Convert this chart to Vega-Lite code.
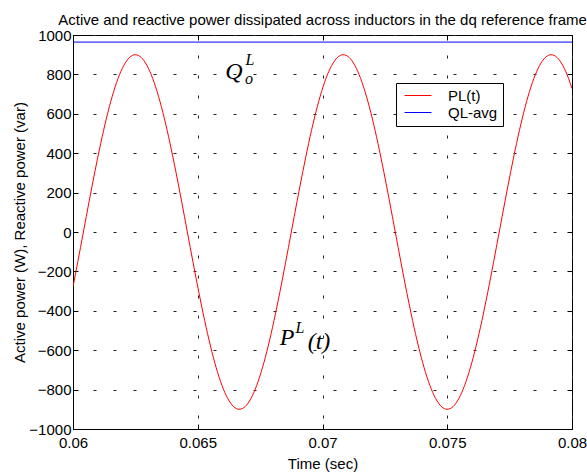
{
  "$schema": "https://vega.github.io/schema/vega-lite/v6.json",
  "width": 499,
  "height": 394,
  "autosize": {"type": "none"},
  "padding": {"left": 73, "top": 35, "right": 15, "bottom": 46},
  "background": "white",
  "title": {"text": "Active and reactive power dissipated across inductors in the dq reference frame", "font": "Liberation Sans", "fontSize": 15, "fontWeight": "normal", "color": "black", "anchor": "middle", "offset": 0},
  "config": {
    "view": {"stroke": "black", "strokeWidth": 1},
    "axis": {"labelFont": "Liberation Sans", "labelFontSize": 15, "labelColor": "black", "titleFont": "Liberation Sans", "titleFontSize": 15, "titleFontWeight": "normal", "titleColor": "black", "domainColor": "black", "tickColor": "black", "gridColor": "#222", "gridDash": [3, 17], "gridWidth": 1}
  },
  "datasets": {
    "pl": [
      {"t":0.06,"v":-278.1},{"t":0.0601852,"v":-156.3},{"t":0.0604167,"v":0},{"t":0.0606481,"v":156.3},{"t":0.0608796,"v":307.8},{"t":0.0611111,"v":450},{"t":0.0613426,"v":578.5},{"t":0.0615741,"v":689.4},{"t":0.0618056,"v":779.4},{"t":0.062037,"v":845.7},{"t":0.0622685,"v":886.3},{"t":0.0625,"v":900},{"t":0.0627315,"v":886.3},{"t":0.062963,"v":845.7},{"t":0.0631944,"v":779.4},{"t":0.0634259,"v":689.4},{"t":0.0636574,"v":578.5},{"t":0.0638889,"v":450},{"t":0.0641204,"v":307.8},{"t":0.0643519,"v":156.3},{"t":0.0645833,"v":0},{"t":0.0648148,"v":-156.3},{"t":0.0650463,"v":-307.8},{"t":0.0652778,"v":-450},{"t":0.0655093,"v":-578.5},{"t":0.0657407,"v":-689.4},{"t":0.0659722,"v":-779.4},{"t":0.0662037,"v":-845.7},{"t":0.0664352,"v":-886.3},{"t":0.0666667,"v":-900},{"t":0.0668981,"v":-886.3},{"t":0.0671296,"v":-845.7},{"t":0.0673611,"v":-779.4},{"t":0.0675926,"v":-689.4},{"t":0.0678241,"v":-578.5},{"t":0.0680556,"v":-450},{"t":0.068287,"v":-307.8},{"t":0.0685185,"v":-156.3},{"t":0.06875,"v":0},{"t":0.0689815,"v":156.3},{"t":0.069213,"v":307.8},{"t":0.0694444,"v":450},{"t":0.0696759,"v":578.5},{"t":0.0699074,"v":689.4},{"t":0.0701389,"v":779.4},{"t":0.0703704,"v":845.7},{"t":0.0706019,"v":886.3},{"t":0.0708333,"v":900},{"t":0.0710648,"v":886.3},{"t":0.0712963,"v":845.7},{"t":0.0715278,"v":779.4},{"t":0.0717593,"v":689.4},{"t":0.0719907,"v":578.5},{"t":0.0722222,"v":450},{"t":0.0724537,"v":307.8},{"t":0.0726852,"v":156.3},{"t":0.0729167,"v":0},{"t":0.0731481,"v":-156.3},{"t":0.0733796,"v":-307.8},{"t":0.0736111,"v":-450},{"t":0.0738426,"v":-578.5},{"t":0.0740741,"v":-689.4},{"t":0.0743056,"v":-779.4},{"t":0.074537,"v":-845.7},{"t":0.0747685,"v":-886.3},{"t":0.075,"v":-900},{"t":0.0752315,"v":-886.3},{"t":0.075463,"v":-845.7},{"t":0.0756944,"v":-779.4},{"t":0.0759259,"v":-689.4},{"t":0.0761574,"v":-578.5},{"t":0.0763889,"v":-450},{"t":0.0766204,"v":-307.8},{"t":0.0768519,"v":-156.3},{"t":0.0770833,"v":0},{"t":0.0773148,"v":156.3},{"t":0.0775463,"v":307.8},{"t":0.0777778,"v":450},{"t":0.0780093,"v":578.5},{"t":0.0782407,"v":689.4},{"t":0.0784722,"v":779.4},{"t":0.0787037,"v":845.7},{"t":0.0789352,"v":886.3},{"t":0.0791667,"v":900},{"t":0.0793981,"v":886.3},{"t":0.0796296,"v":845.7},{"t":0.0798611,"v":779.4},{"t":0.08,"v":728.1}
    ],
    "ql": [{"t":0.06,"v":964},{"t":0.08,"v":964}],
    "annBig": [
      {"t":0.06645,"v":812,"label":"Q"},
      {"t":0.06858,"v":-538,"label":"P"},
      {"t":0.06986,"v":-558,"label":"(t)"}
    ],
    "annSmall": [
      {"t":0.067094,"v":873,"label":"L"},
      {"t":0.067054,"v":777,"label":"o"},
      {"t":0.069098,"v":-487,"label":"L"}
    ]
  },
  "resolve": {"axis": {"x": "independent", "y": "independent"}},
  "layer": [
    {
      "data": {"name": "pl"},
      "mark": {"type": "line", "strokeWidth": 1, "interpolate": "monotone", "clip": true},
      "encoding": {
        "x": {"field": "t", "type": "quantitative", "scale": {"domain": [0.06, 0.08], "nice": false, "zero": false},
              "axis": {"orient": "bottom", "values": [0.06, 0.065, 0.07, 0.075, 0.08], "format": ".3~f", "title": "Time (sec)", "grid": true, "tickSize": -5, "labelPadding": 11, "titlePadding": 6, "labelFlush": false}},
        "y": {"field": "v", "type": "quantitative", "scale": {"domain": [-1000, 1000], "nice": false},
              "axis": {"orient": "left", "values": [-1000,-800,-600,-400,-200,0,200,400,600,800,1000], "format": "d", "title": "Active power (W),  Reactive power (var)", "grid": true, "tickSize": -5, "labelPadding": 7, "titlePadding": 1, "labelFlush": false}},
        "color": {"datum": "PL(t)", "type": "nominal", "scale": {"domain": ["PL(t)", "QL-avg"], "range": ["#ff0000", "#0000ff"]},
                  "legend": {"orient": "none", "legendX": 323, "legendY": 48, "title": null, "strokeColor": "black", "fillColor": "white", "padding": 5, "cornerRadius": 0, "symbolType": "M-0.8,0H4.6", "symbolSize": 100, "symbolStrokeWidth": 1, "labelFont": "Liberation Sans", "labelFontSize": 15, "labelColor": "black", "labelOffset": 32, "rowPadding": 1}}
      }
    },
    {
      "data": {"name": "ql"},
      "mark": {"type": "line", "strokeWidth": 1, "clip": true},
      "encoding": {
        "x": {"field": "t", "type": "quantitative",
              "axis": {"orient": "top", "values": [0.06, 0.065, 0.07, 0.075, 0.08], "labels": false, "title": null, "grid": false, "domain": false, "tickSize": -5}},
        "y": {"field": "v", "type": "quantitative",
              "axis": {"orient": "right", "values": [-1000,-800,-600,-400,-200,0,200,400,600,800,1000], "labels": false, "title": null, "grid": false, "domain": false, "tickSize": -5}},
        "color": {"datum": "QL-avg", "type": "nominal"}
      }
    },
    {
      "data": {"name": "annBig"},
      "mark": {"type": "text", "font": "Liberation Serif", "fontStyle": "italic", "fontSize": 24, "color": "black", "align": "center", "baseline": "middle"},
      "encoding": {
        "x": {"field": "t", "type": "quantitative", "axis": null},
        "y": {"field": "v", "type": "quantitative", "axis": null},
        "text": {"field": "label"}
      }
    },
    {
      "data": {"name": "annSmall"},
      "mark": {"type": "text", "font": "Liberation Serif", "fontStyle": "italic", "fontSize": 16, "color": "black", "align": "center", "baseline": "middle"},
      "encoding": {
        "x": {"field": "t", "type": "quantitative", "axis": null},
        "y": {"field": "v", "type": "quantitative", "axis": null},
        "text": {"field": "label"}
      }
    }
  ]
}
